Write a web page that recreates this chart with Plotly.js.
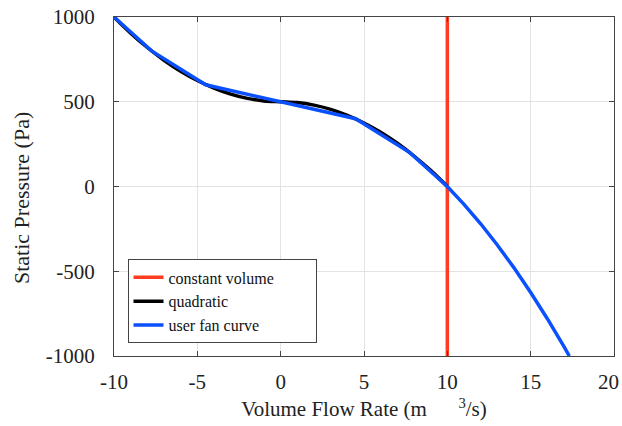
<!DOCTYPE html>
<html><head><meta charset="utf-8">
<script src="https://cdn.plot.ly/plotly-3.0.1.min.js"></script>
<style>html,body{margin:0;padding:0;background:#fff}#chart{width:622px;height:426px}</style>
</head><body><div id="chart"></div>
<script>
const constX = [10, 10];
const constY = [-1000, 1000];
const quadX = [-10,-9,-8,-7,-6,-5,-4,-3,-2,-1,0,1,2,3,4,5,6,7,8,9,10];
const quadY = [1000,905,820,745,680,625,580,545,520,505,500,495,480,455,420,375,320,255,180,95,0];
const userX = [-10,-7.75,-4.5,0,4.5,7.75,10,11,12,13,14,15,16,17,17.32];
const userY = [1000,800,600,500,400,200,0,-105,-220,-345,-480,-625,-780,-945,-1000];
const xTicks = [-10,-5,0,5,10,15,20];
const xTickText = ['-10','-5','0','5','10','15',''];
const lastXLabel = '20';
const yTicks = [-1000,-500,0,500,1000];
const yTickText = ['-1000','-500','0','500','1000'];
const seriesNames = ['constant volume','quadratic','user fan curve'];
const yTitle = 'Static Pressure (Pa)';

const font = "'Liberation Serif', 'Times New Roman', serif";
const pad = '\u00a0'.repeat(9);
const traces = [
  {x: constX, y: constY, mode:'lines', name:seriesNames[0]+pad, line:{color:'#ff3c1e', width:3.5}},
  {x: quadX, y: quadY, mode:'lines', name:seriesNames[1], line:{color:'#000000', width:3.5, shape:'spline'}},
  {x: userX, y: userY, mode:'lines', name:seriesNames[2], line:{color:'#0a50ff', width:3.5}}
];
const axisCommon = {
  showgrid:true, gridcolor:'#e3e3e3', gridwidth:1, zeroline:false,
  showline:true, linecolor:'#444', linewidth:1, mirror:'ticks',
  ticks:'inside', ticklen:5, tickcolor:'#444', automargin:false,
  tickfont:{family:font, size:21, color:'#222'}
};
const layout = {
  width:622, height:426,
  margin:{l:114, r:8, t:17, b:70},
  paper_bgcolor:'#fff', plot_bgcolor:'#fff',
  showlegend:true,
  xaxis: Object.assign({}, axisCommon, {range:[-10,20], tickvals:xTicks, ticktext:xTickText, ticklabelstandoff:7,
    title:{text:'Volume Flow Rate (m\u00a0\u00a0\u00a0\u00a0\u00a0\u00a0<sup>3</sup>/s)', font:{family:font, size:21, color:'#222'}, standoff:8}}),
  yaxis: Object.assign({}, axisCommon, {range:[-1000,1000], tickvals:yTicks, ticktext:yTickText, ticklabelstandoff:14}),
  legend:{x:0.027, y:0.037, xanchor:'left', yanchor:'bottom', bgcolor:'#fff', bordercolor:'#444', borderwidth:1,
    font:{family:font, size:16, color:'#111'}, tracegroupgap:0},
  annotations:[
    {text:lastXLabel, xref:'x', yref:'paper', x:19.64, y:0, yanchor:'top', xanchor:'center', yshift:-12,
      showarrow:false, font:{family:font, size:21, color:'#222'}},
    {text:yTitle, xref:'paper', yref:'paper', x:-0.186, y:0.466, xanchor:'center', yanchor:'middle', textangle:-90,
      showarrow:false, font:{family:font, size:22, color:'#222'}}
  ]
};
Plotly.newPlot('chart', traces, layout, {displayModeBar:false, staticPlot:true});
</script></body></html>
